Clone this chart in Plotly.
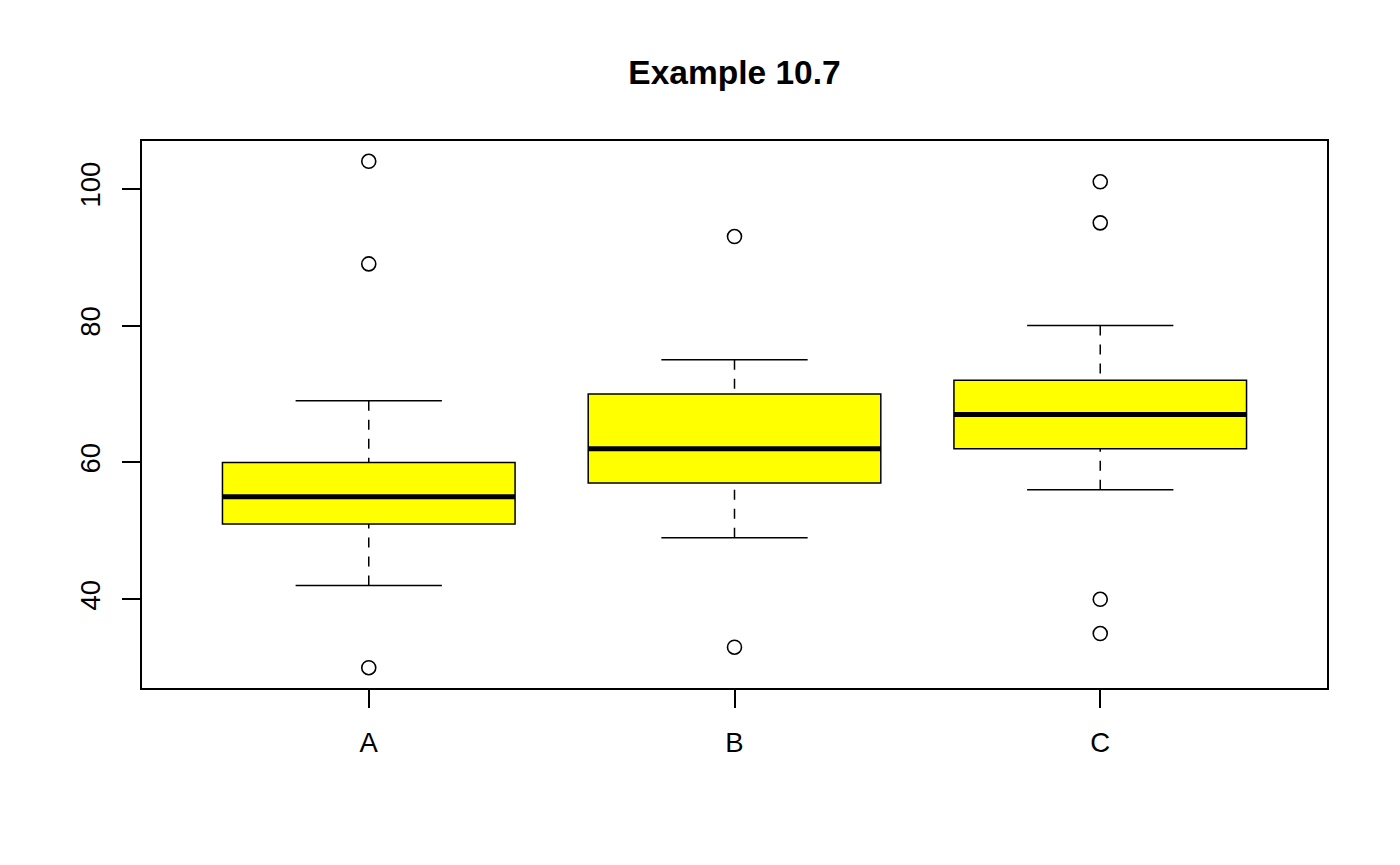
import plotly.graph_objects as go

categories = ["A", "B", "C"]
lower_whisker = [42, 49, 56]
q1 = [51, 57, 62]
median = [55, 62, 67]
q3 = [60, 70, 72]
upper_whisker = [69, 75, 80]
outliers = [[104, 89, 30], [93, 33], [101, 95, 40, 35]]
title_text = "Example 10.7"
y_ticks = [40, 60, 80, 100]

FONT = "Liberation Sans, Arial, Helvetica, sans-serif"
BOX_HALF = 0.4
CAP_HALF = 0.2

fig = go.Figure()
shapes = []
for i, cat in enumerate(categories):
    xc = i + 1
    # dashed whiskers (drawn from whisker end toward box)
    for yend, ybox in ((lower_whisker[i], q1[i]), (upper_whisker[i], q3[i])):
        shapes.append(dict(type="line", xref="x", yref="y", x0=xc, x1=xc, y0=yend, y1=ybox,
                           line=dict(color="black", width=1.5, dash="10px,9px")))
        shapes.append(dict(type="line", xref="x", yref="y", x0=xc - CAP_HALF, x1=xc + CAP_HALF,
                           y0=yend, y1=yend, line=dict(color="black", width=1.5)))
    shapes.append(dict(type="rect", xref="x", yref="y", x0=xc - BOX_HALF, x1=xc + BOX_HALF,
                       y0=q1[i], y1=q3[i], fillcolor="#FFFF00",
                       line=dict(color="black", width=1.5)))
    shapes.append(dict(type="line", xref="x", yref="y", x0=xc - BOX_HALF, x1=xc + BOX_HALF,
                       y0=median[i], y1=median[i], line=dict(color="black", width=5)))

ox, oy = [], []
for i, vals in enumerate(outliers):
    for v in vals:
        ox.append(i + 1)
        oy.append(v)
fig.add_trace(go.Scatter(x=ox, y=oy, mode="markers", showlegend=False, hoverinfo="y",
                         marker=dict(symbol="circle-open", size=14, color="black",
                                     line=dict(width=1.6, color="black"))))

fig.update_layout(
    width=1400, height=865,
    paper_bgcolor="white", plot_bgcolor="white",
    margin=dict(l=142, r=73, t=141, b=177),
    shapes=shapes,
    font=dict(family=FONT, color="black", size=27),
    title=dict(text="<b>" + title_text + "</b>", x=0.5, xref="paper", xanchor="center",
               y=1 - 72 / 865, yref="container", yanchor="middle",
               font=dict(size=33.5, family=FONT, color="black")),
    showlegend=False,
)
fig.update_xaxes(range=[0.38, len(categories) + 0.62], tickvals=[1, 2, 3], ticktext=categories,
                 showgrid=False, zeroline=False, showline=True, mirror=True, linecolor="black",
                 linewidth=1.5, ticks="outside", ticklen=18, tickwidth=1.5, tickcolor="black",
                 ticklabelstandoff=11, tickfont=dict(size=27.5))
fig.update_yaxes(range=[27.04, 106.96], tickvals=y_ticks, showgrid=False, zeroline=False,
                 showline=True, mirror=True, linecolor="black", linewidth=1.5,
                 ticks="outside", ticklen=18, tickwidth=1.5, tickcolor="black",
                 tickangle=-90, ticklabelstandoff=11, tickfont=dict(size=27.5))

fig.write_html("out.html")
